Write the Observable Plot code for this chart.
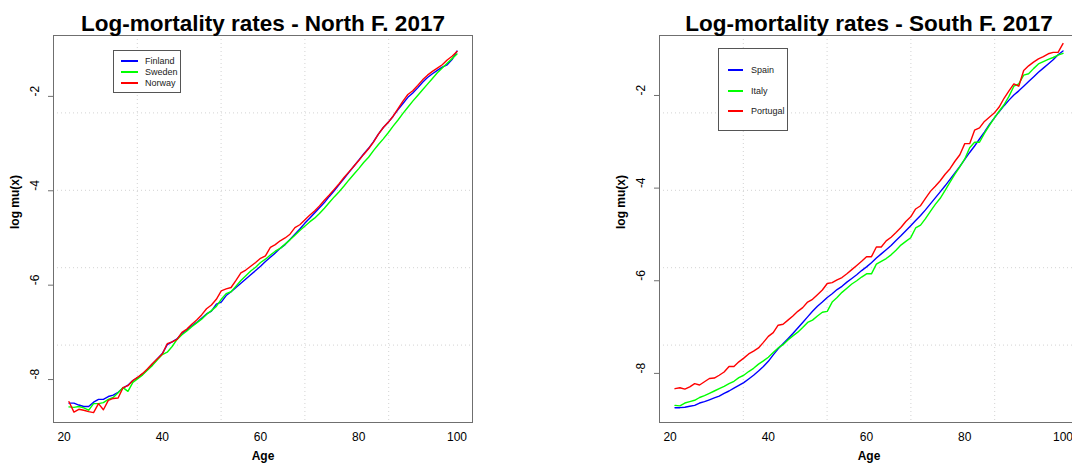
<!DOCTYPE html>
<html>
<head>
<meta charset="utf-8">
<script src="https://cdn.jsdelivr.net/npm/d3@7"></script>
<script src="https://cdn.jsdelivr.net/npm/@observablehq/plot@0.6"></script>
<style>
  html, body { margin: 0; padding: 0; background: #fff; overflow: hidden; width: 1072px; height: 469px; }
  body { position: relative; font-family: "Liberation Sans", Arial, Helvetica, sans-serif; }
  .panel { position: absolute; top: 0; overflow: visible; }
  .panel svg { max-width: none !important; display: block; }
  .legend { position: absolute; border: 1px solid #555; box-sizing: border-box; background: #fff; }
  .swatch { position: absolute; height: 2px; }
  .entry { position: absolute; font-size: 9px; line-height: 12px; color: #222; white-space: nowrap; }
</style>
</head>
<body>
<script>
// Ages 21..100, female log-mortality rates, 2017
const ages = d3.range(21, 101);

const northNames = ["Finland", "Sweden", "Norway"];
const southNames = ["Spain", "Italy", "Portugal"];
const lineColors = ["#0000ff", "#00ff00", "#ff0000"];

const finland = [
  -8.50,-8.50,-8.54,-8.57,-8.57,-8.48,-8.42,-8.42,-8.36,-8.33,
  -8.27,-8.18,-8.12,-8.02,-7.96,-7.88,-7.78,-7.67,-7.56,-7.45,
  -7.26,-7.20,-7.14,-7.02,-6.95,-6.86,-6.79,-6.70,-6.61,-6.55,
  -6.40,-6.36,-6.22,-6.14,-6.05,-5.96,-5.87,-5.78,-5.69,-5.60,
  -5.50,-5.41,-5.32,-5.22,-5.14,-5.03,-4.92,-4.81,-4.69,-4.58,
  -4.47,-4.36,-4.25,-4.12,-4.00,-3.87,-3.74,-3.61,-3.48,-3.35,
  -3.22,-3.10,-2.96,-2.80,-2.66,-2.55,-2.42,-2.28,-2.15,-2.02,
  -1.93,-1.82,-1.70,-1.60,-1.52,-1.45,-1.38,-1.33,-1.22,-1.04
];
const sweden = [
  -8.58,-8.59,-8.57,-8.60,-8.65,-8.51,-8.51,-8.49,-8.42,-8.38,
  -8.28,-8.17,-8.25,-8.06,-7.98,-7.90,-7.80,-7.70,-7.58,-7.47,
  -7.42,-7.30,-7.15,-7.05,-6.97,-6.88,-6.80,-6.72,-6.62,-6.54,
  -6.45,-6.30,-6.18,-6.14,-6.02,-5.90,-5.80,-5.70,-5.62,-5.52,
  -5.45,-5.36,-5.28,-5.22,-5.13,-5.04,-4.94,-4.84,-4.75,-4.66,
  -4.58,-4.48,-4.37,-4.25,-4.13,-4.02,-3.90,-3.77,-3.65,-3.53,
  -3.40,-3.29,-3.15,-3.02,-2.90,-2.77,-2.63,-2.50,-2.36,-2.23,
  -2.10,-1.98,-1.86,-1.74,-1.62,-1.50,-1.40,-1.30,-1.20,-1.10
];
const norway = [
  -8.47,-8.69,-8.63,-8.65,-8.68,-8.70,-8.51,-8.64,-8.44,-8.40,
  -8.39,-8.17,-8.13,-8.02,-7.95,-7.87,-7.77,-7.66,-7.56,-7.46,
  -7.24,-7.20,-7.15,-7.00,-6.93,-6.83,-6.74,-6.63,-6.50,-6.42,
  -6.30,-6.12,-6.08,-6.05,-5.90,-5.74,-5.68,-5.60,-5.52,-5.43,
  -5.38,-5.20,-5.14,-5.06,-5.00,-4.92,-4.78,-4.72,-4.62,-4.52,
  -4.43,-4.32,-4.20,-4.09,-3.97,-3.85,-3.72,-3.60,-3.48,-3.36,
  -3.23,-3.11,-2.97,-2.80,-2.66,-2.55,-2.42,-2.26,-2.10,-1.96,
  -1.88,-1.77,-1.65,-1.55,-1.47,-1.40,-1.33,-1.23,-1.15,-1.05
];
const spain = [
  -8.74,-8.74,-8.73,-8.71,-8.69,-8.64,-8.61,-8.57,-8.53,-8.49,
  -8.43,-8.38,-8.32,-8.26,-8.20,-8.12,-8.04,-7.95,-7.85,-7.74,
  -7.60,-7.47,-7.36,-7.25,-7.14,-7.02,-6.90,-6.78,-6.66,-6.55,
  -6.46,-6.36,-6.28,-6.19,-6.12,-6.03,-5.95,-5.87,-5.78,-5.70,
  -5.61,-5.51,-5.42,-5.33,-5.24,-5.13,-5.03,-4.92,-4.81,-4.70,
  -4.59,-4.47,-4.34,-4.21,-4.08,-3.95,-3.81,-3.67,-3.53,-3.38,
  -3.23,-3.09,-2.94,-2.79,-2.63,-2.49,-2.35,-2.22,-2.10,-1.99,
  -1.90,-1.80,-1.70,-1.60,-1.50,-1.41,-1.32,-1.23,-1.12,-1.04
];
const italy = [
  -8.69,-8.70,-8.64,-8.61,-8.58,-8.52,-8.48,-8.43,-8.38,-8.33,
  -8.28,-8.22,-8.17,-8.09,-8.04,-7.96,-7.89,-7.80,-7.73,-7.65,
  -7.55,-7.45,-7.38,-7.28,-7.19,-7.11,-7.01,-6.90,-6.85,-6.76,
  -6.68,-6.66,-6.46,-6.36,-6.25,-6.16,-6.07,-6.00,-5.92,-5.85,
  -5.85,-5.64,-5.58,-5.52,-5.44,-5.34,-5.23,-5.15,-5.07,-4.86,
  -4.80,-4.66,-4.50,-4.35,-4.22,-4.05,-3.87,-3.70,-3.54,-3.37,
  -3.13,-3.01,-3.01,-2.82,-2.65,-2.49,-2.34,-2.20,-2.02,-1.80,
  -1.75,-1.56,-1.53,-1.42,-1.32,-1.27,-1.22,-1.18,-1.13,-1.09
];
const portugal = [
  -8.33,-8.31,-8.34,-8.29,-8.22,-8.25,-8.18,-8.11,-8.10,-8.04,
  -7.97,-7.85,-7.85,-7.75,-7.67,-7.58,-7.52,-7.45,-7.33,-7.20,
  -7.12,-6.96,-6.94,-6.85,-6.76,-6.66,-6.58,-6.46,-6.40,-6.30,
  -6.20,-6.06,-6.04,-5.98,-5.93,-5.85,-5.76,-5.67,-5.58,-5.48,
  -5.48,-5.27,-5.27,-5.14,-5.06,-4.96,-4.85,-4.72,-4.62,-4.45,
  -4.38,-4.22,-4.07,-3.96,-3.84,-3.70,-3.58,-3.42,-3.28,-3.04,
  -3.04,-2.75,-2.70,-2.56,-2.47,-2.38,-2.25,-2.06,-1.90,-1.75,
  -1.80,-1.46,-1.36,-1.28,-1.21,-1.16,-1.10,-1.07,-1.07,-0.88
];

const xTicks = [20, 40, 60, 80, 100];
const yTicks = [-8, -6, -4, -2];
const xDomain = [17.84, 103.16];

const font = "'Liberation Sans', Arial, Helvetica, sans-serif";

function drawPanel(cfg) {
  const rows = [];
  cfg.names.forEach((name, i) =>
    cfg.series[i].forEach((v, j) => rows.push({country: name, age: ages[j], value: v}))
  );
  // 5 x 5 grid dividing the plotting region into equal parts
  const gridX = d3.range(1, 5).map(k => xDomain[0] + k * (xDomain[1] - xDomain[0]) / 5);
  const gridY = d3.range(1, 5).map(k => cfg.yDomain[0] + k * (cfg.yDomain[1] - cfg.yDomain[0]) / 5);

  const chart = Plot.plot({
    width: cfg.width,
    height: 469,
    marginTop: 35,
    marginBottom: 47,
    marginLeft: cfg.marginLeft,
    marginRight: cfg.marginRight,
    style: {fontFamily: font, fontSize: "12px", background: "transparent", color: "#000"},
    x: {domain: xDomain},
    y: {domain: cfg.yDomain},
    color: {domain: cfg.names, range: lineColors},
    marks: [
      Plot.ruleX(gridX, {stroke: "#d3d3d3", strokeDasharray: "1,3"}),
      Plot.ruleY(gridY, {stroke: "#d3d3d3", strokeDasharray: "1,3"}),
      Plot.line(rows, {x: "age", y: "value", z: "country", stroke: "country", strokeWidth: 1.4}),
      Plot.frame({stroke: "#6f6f6f"}),
      Plot.axisY(yTicks, {tickSize: 5, tickFormat: () => "", stroke: "#6f6f6f", label: null}),
      Plot.text(yTicks, {y: d => d, frameAnchor: "left", dx: -18, rotate: -90, text: d => String(d), fill: "#000", fontSize: 12}),
      Plot.axisX(xTicks, {tickSize: 0, tickPadding: 10, tickFormat: d => String(d), label: null, fill: "#000", fontSize: 12}),
      Plot.text(["Age"], {frameAnchor: "bottom", dy: 37, text: d => d, fontWeight: "bold", fontSize: 12}),
      Plot.text(["log mu(x)"], {frameAnchor: "left", dx: -38, rotate: -90, text: d => d, fontWeight: "bold", fontSize: 12}),
      Plot.text([cfg.title], {frameAnchor: "top", dy: -20, text: d => d, fontWeight: "bold", fontSize: 22.5})
    ]
  });
  chart.style.maxWidth = "none";
  const wrap = document.createElement("div");
  wrap.className = "panel";
  wrap.style.left = cfg.left + "px";
  wrap.style.width = cfg.width + "px";
  wrap.appendChild(chart);
  document.body.appendChild(wrap);
}

function drawLegend(lg) {
  const box = document.createElement("div");
  box.className = "legend";
  Object.assign(box.style, {left: lg.left + "px", top: lg.top + "px", width: lg.width + "px", height: lg.height + "px"});
  document.body.appendChild(box);
  lg.names.forEach((name, i) => {
    const cy = lg.rows[i];
    const sw = document.createElement("div");
    sw.className = "swatch";
    Object.assign(sw.style, {
      left: lg.lineX + "px", width: lg.lineW + "px", top: (cy - 1) + "px",
      background: lineColors[i]
    });
    document.body.appendChild(sw);
    const tx = document.createElement("div");
    tx.className = "entry";
    tx.textContent = name;
    Object.assign(tx.style, {left: lg.textX + "px", top: (cy - 6) + "px"});
    document.body.appendChild(tx);
  });
}

drawPanel({
  title: "Log-mortality rates - North F. 2017",
  names: northNames, series: [finland, sweden, norway],
  yDomain: [-8.91, -0.71],
  left: 0, width: 536, marginLeft: 53, marginRight: 64
});
drawPanel({
  title: "Log-mortality rates - South F. 2017",
  names: southNames, series: [spain, italy, portugal],
  yDomain: [-9.06, -0.705],
  left: 536, width: 545, marginLeft: 123, marginRight: 3
});

drawLegend({names: northNames, left: 113, top: 50, width: 68, height: 43,
  rows: [61, 72, 83], lineX: 121, lineW: 17, textX: 145});
drawLegend({names: southNames, left: 718, top: 48, width: 70, height: 83,
  rows: [70, 91, 111], lineX: 728, lineW: 15, textX: 751});
</script>
</body>
</html>
